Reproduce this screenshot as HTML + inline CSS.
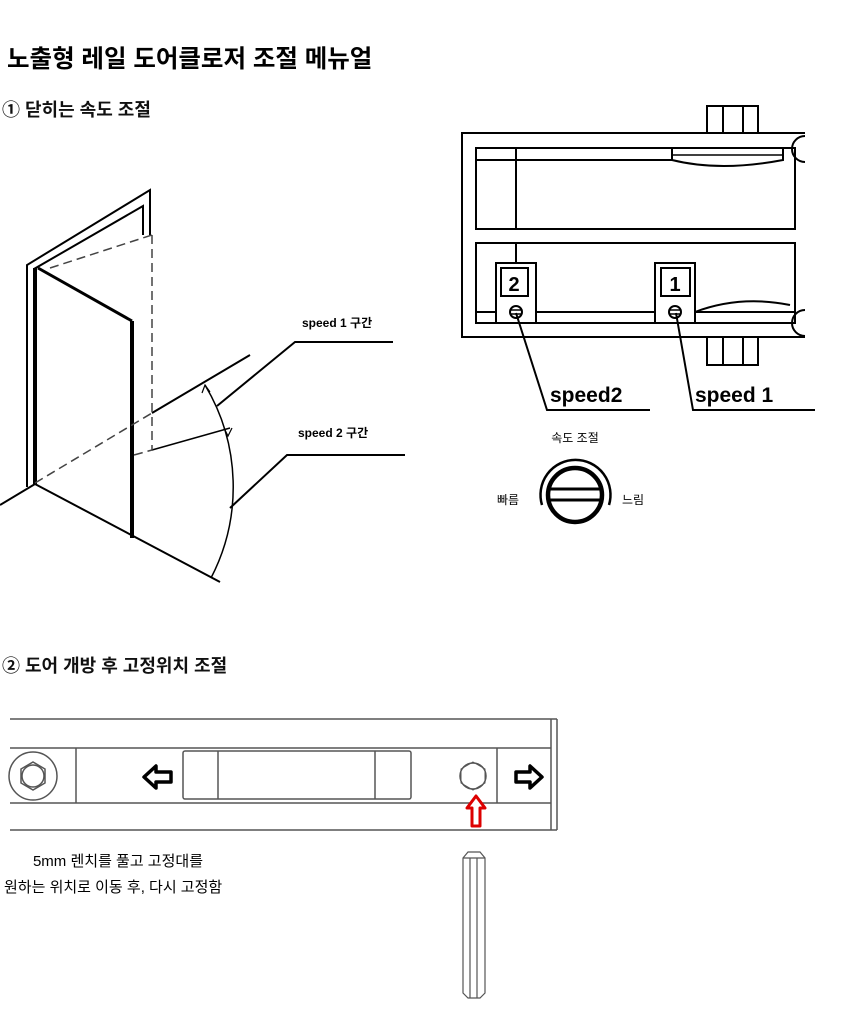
<!DOCTYPE html>
<html><head><meta charset="utf-8"><style>
html,body{margin:0;padding:0;background:#fff;}
body{width:848px;height:1018px;overflow:hidden;position:relative;font-family:"Liberation Sans","Noto Sans CJK KR",sans-serif;}
svg{position:absolute;left:0;top:0;}
</style></head><body>
<svg width="848" height="1018" viewBox="0 0 848 1018" xmlns="http://www.w3.org/2000/svg" font-family="Liberation Sans, Noto Sans CJK KR, sans-serif">
<text x="7" y="67" font-size="24.5" font-weight="bold" fill="#000">노출형 레일 도어클로저 조절 메뉴얼</text>
<text x="2" y="116" font-size="18" font-weight="bold" fill="#111">① 닫히는 속도 조절</text>
<text x="2" y="672" font-size="18" font-weight="bold" fill="#111">② 도어 개방 후 고정위치 조절</text>

<!-- Door -->
<g fill="none" stroke="#000" stroke-width="2">
<polyline points="27,487 27,265 150,190 150,235"/>
<polyline points="34,480 34,269 143,206 143,235"/>
<line x1="35" y1="268" x2="35" y2="484" stroke-width="4"/>
<line x1="38" y1="268" x2="132" y2="321" stroke-width="3"/>
<line x1="132" y1="321" x2="132" y2="538" stroke-width="4"/>
<polyline points="0,505 35,484 220,582"/>
<line x1="152" y1="413" x2="250" y2="355"/>
<line x1="152" y1="450" x2="230" y2="428" stroke-width="1.5"/>
<polyline points="217,406 295,342 393,342"/>
<polyline points="230,508 287,455 405,455"/>
</g>
<g fill="none" stroke="#444" stroke-width="1.5" stroke-dasharray="9,5">
<line x1="35" y1="483" x2="152" y2="413"/>
<line x1="50" y1="268" x2="152" y2="235"/>
<line x1="152" y1="235" x2="152" y2="450"/>
<line x1="134" y1="455" x2="152" y2="450"/>
</g>
<path d="M205,385 A198 198 0 0 1 211,578" fill="none" stroke="#000" stroke-width="1.5"/>
<path d="M202,393 L205,385 L210,392" fill="none" stroke="#000" stroke-width="1.2"/>
<path d="M224,428 L228,436 L232,428" fill="none" stroke="#000" stroke-width="1.2"/>
<text x="302" y="327" font-size="12" font-weight="bold">speed 1 구간</text>
<text x="298" y="437" font-size="12" font-weight="bold">speed 2 구간</text>

<!-- Closer body -->
<g fill="none" stroke="#000" stroke-width="2">
<polyline points="805,133 462,133 462,337 805,337"/>
<rect x="707" y="106" width="51" height="27"/>
<line x1="723" y1="106" x2="723" y2="133"/><line x1="743" y1="106" x2="743" y2="133"/>
<rect x="707" y="337" width="51" height="28"/>
<line x1="723" y1="337" x2="723" y2="365"/><line x1="743" y1="337" x2="743" y2="365"/>
<rect x="476" y="148" width="319" height="81"/>
<line x1="476" y1="160" x2="672" y2="160"/>
<line x1="516" y1="148" x2="516" y2="229"/>
<path d="M672,148 L672,160 Q720,172 783,160 L783,148"/>
<line x1="672" y1="155" x2="783" y2="155" stroke-width="1.5"/>
<path d="M805,136 A13 13 0 0 0 805,162" />
<rect x="476" y="243" width="319" height="80"/>
<line x1="516" y1="243" x2="516" y2="263"/>
<line x1="476" y1="312" x2="795" y2="312"/>
<path d="M695,312 Q740,295 790,305"/>
<path d="M805,310 A13 13 0 0 0 805,336"/>
<rect x="496" y="263" width="40" height="60" fill="#fff"/>
<rect x="501" y="268" width="27" height="28"/>
<rect x="655" y="263" width="40" height="60" fill="#fff"/>
<rect x="661" y="268" width="29" height="28"/>
<circle cx="516" cy="312" r="6"/><line x1="510" y1="310" x2="522" y2="310" stroke-width="1.5"/><line x1="510" y1="314" x2="522" y2="314" stroke-width="1.5"/>
<circle cx="675" cy="312" r="6"/><line x1="669" y1="310" x2="681" y2="310" stroke-width="1.5"/><line x1="669" y1="314" x2="681" y2="314" stroke-width="1.5"/>
<polyline points="516,313 547,410 650,410"/>
<polyline points="676,313 693,410 815,410"/>
</g>
<text x="514" y="291" font-size="20" font-weight="bold" text-anchor="middle">2</text>
<text x="675" y="291" font-size="20" font-weight="bold" text-anchor="middle">1</text>
<text x="550" y="402" font-size="21" font-weight="bold">speed2</text>
<text x="695" y="402" font-size="21" font-weight="bold">speed 1</text>
<text x="575" y="442" font-size="12" text-anchor="middle">속도 조절</text>
<text x="497" y="504" font-size="12">빠름</text>
<text x="622" y="504" font-size="12">느림</text>
<path d="M542,505 A35 35 0 1 1 609,505" fill="none" stroke="#000" stroke-width="2.5"/>
<circle cx="575" cy="495" r="27" fill="none" stroke="#000" stroke-width="4.5"/>
<line x1="550" y1="489" x2="600" y2="489" stroke="#000" stroke-width="3"/>
<line x1="550" y1="500" x2="600" y2="500" stroke="#000" stroke-width="3"/>

<!-- Rail -->
<g fill="none" stroke="#555" stroke-width="1.5">
<line x1="10" y1="719" x2="557" y2="719"/>
<line x1="10" y1="830" x2="557" y2="830"/>
<line x1="10" y1="748" x2="551" y2="748"/>
<line x1="10" y1="803" x2="551" y2="803"/>
<line x1="551" y1="719" x2="551" y2="830"/>
<line x1="557" y1="719" x2="557" y2="830"/>
<line x1="76" y1="748" x2="76" y2="803"/>
<line x1="497" y1="748" x2="497" y2="803"/>
<rect x="183" y="751" width="228" height="48" rx="2"/>
<line x1="218" y1="751" x2="218" y2="799"/>
<line x1="375" y1="751" x2="375" y2="799"/>
<circle cx="33" cy="776" r="24"/>
<polygon points="33,762 45,769 45,783 33,790 21,783 21,769"/>
<circle cx="33" cy="776" r="11"/>
<polygon points="473,762 485,769 485,783 473,790 461,783 461,769" stroke-width="1"/>
<circle cx="473" cy="776" r="13"/>
</g>
<path d="M144,777 L156,766 L156,772 L171,772 L171,782 L156,782 L156,788 Z" fill="#fff" stroke="#000" stroke-width="3.5" stroke-linejoin="round"/>
<path d="M542,777 L530,766 L530,772 L516,772 L516,782 L530,782 L530,788 Z" fill="#fff" stroke="#000" stroke-width="3.5" stroke-linejoin="round"/>
<path d="M476,796 L485,808 L480,808 L480,826 L472,826 L472,808 L467,808 Z" fill="#fff" stroke="#d00" stroke-width="3" stroke-linejoin="round"/>
<text x="118" y="866" font-size="15" text-anchor="middle">5mm 렌치를 풀고 고정대를</text>
<text x="4" y="892" font-size="15">원하는 위치로 이동 후, 다시 고정함</text>
<g fill="none" stroke="#555" stroke-width="1.2">
<path d="M463,858 L468,852 L480,852 L485,858 L485,993 L480,998 L468,998 L463,993 Z"/>
<line x1="470" y1="858" x2="470" y2="998"/>
<line x1="477" y1="858" x2="477" y2="998"/>
<line x1="463" y1="858" x2="485" y2="858"/>
</g>
</svg>
</body></html>
